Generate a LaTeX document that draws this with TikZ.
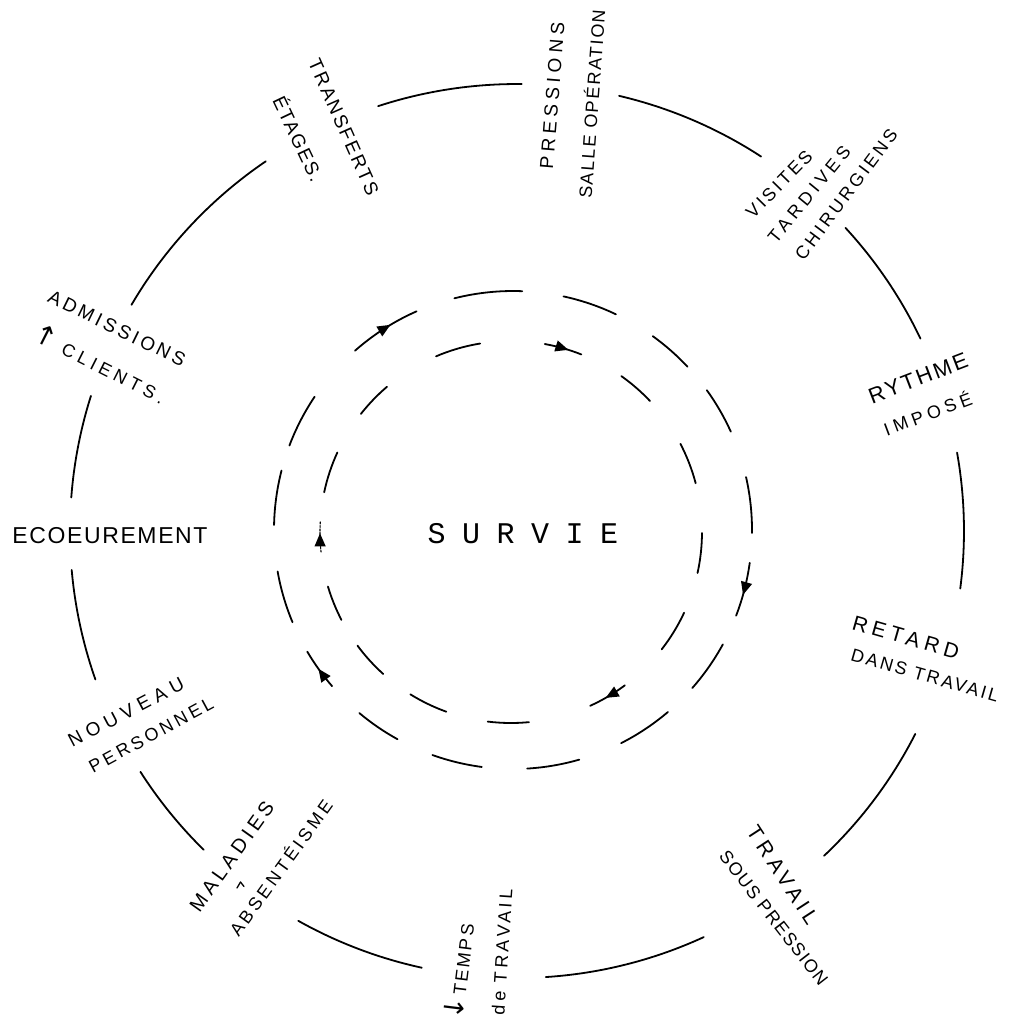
\documentclass[tikz,border=0pt]{standalone}
\usepackage{fontspec}
\newfontfamily\hand{Liberation Sans}
\newfontfamily\typew{Liberation Mono}
\newfontfamily\arrowfont{DejaVu Sans}
\usetikzlibrary{arrows.meta,decorations.markings,calc}

% one arc piece of a ring: [style]{centre}{radius}{from angle}{to angle}
\newcommand{\seg}[5][]{\draw[ring,#1] ($(#2)+(#4:#3)$) arc[start angle=#4, end angle=#5, radius=#3];}
% hand-lettered label: {name}{x}{y}{angle}{size}{letter spacing}{text}
\newcommand{\hl}[7]{\node[lab, rotate=#4, text height=#5*0.72pt,
  font={\hand\fontsize{#5}{#5}\selectfont\addfontfeature{LetterSpace=#6}}] (#1) at (#2,#3) {#7};}
% up / down pen arrows inside a label
\newcommand{\up}{{\arrowfont\fontsize{27}{27}\selectfont\addfontfeature{LetterSpace=0}↑}}
\newcommand{\down}{{\arrowfont\fontsize{27}{27}\selectfont\addfontfeature{LetterSpace=0}↓}}

\begin{document}
\begin{tikzpicture}[x=1pt,y=-1pt,
  ring/.style={line width=1.8pt, line cap=round},
  faint/.style={line width=1.1pt, dash pattern=on 2pt off 1.5pt},
  flow/.style={postaction={decorate}, decoration={markings,
    mark=at position #1 with {\arrow{Triangle[length=13pt,width=11pt]}}}},
  flow/.default=0.6,
  lab/.style={inner sep=0pt, text depth=0pt}]
\useasboundingbox (0,0) rectangle (1009,1029);

\coordinate (Co) at (517,531);  % outer solid circle
\coordinate (Cm) at (513,530);  % outer dashed ring
\coordinate (Ci) at (511,532);  % inner dashed ring

% outer circle, broken where the labels sit
\seg{Co}{447}{-108.1}{-89.4}
\seg{Co}{447}{-76.8}{-56.9}
\seg{Co}{447}{-42.7}{-25.5}
\seg{Co}{447}{-10.1}{7.4}
\seg{Co}{447}{27}{46.6}
\seg{Co}{447}{65.3}{86.3}
\seg{Co}{447}{102.3}{119.3}
\seg{Co}{447}{134.5}{147.4}
\seg{Co}{447}{160.6}{175}
\seg{Co}{447}{184.3}{197.6}
\seg{Co}{447}{210.4}{235.8}

% outer dashed ring, running clockwise
\seg[flow]{Cm}{239}{-131.4}{-113.8}
\seg{Cm}{239}{-104.2}{-87.8}
\seg{Cm}{239}{-77.8}{-64.5}
\seg{Cm}{239}{-54.2}{-43.1}
\seg{Cm}{239}{-35.8}{-24.3}
\seg{Cm}{239}{-12.8}{0.7}
\seg[flow]{Cm}{239}{7.9}{21}
\seg{Cm}{239}{28.6}{41.4}
\seg{Cm}{239}{49.6}{63.1}
\seg{Cm}{239}{73.9}{86.6}
\seg{Cm}{239}{97.5}{109.7}
\seg{Cm}{239}{118.9}{130}
\seg[flow=0.52]{Cm}{239}{139.2}{149.4}
\seg{Cm}{239}{157.3}{170}
\seg{Cm}{239}{181.2}{194.4}
\seg{Cm}{239}{200.7}{213.9}

% inner dashed ring, running clockwise
\seg{Ci}{191}{-113.1}{-99.3}
\seg[flow=0.64]{Ci}{191}{-79.8}{-68.4}
\seg{Ci}{191}{-54.7}{-43.3}
\seg{Ci}{191}{-27.5}{-14.8}
\seg{Ci}{191}{0.3}{12.4}
\seg{Ci}{191}{25}{37.9}
\seg[flow=0.57]{Ci}{191}{53.4}{65.5}
\seg{Ci}{191}{84.6}{97}
\seg{Ci}{191}{109.8}{121.8}
\seg{Ci}{191}{132}{143.5}
\seg{Ci}{191}{152.6}{163.4}
\seg[faint,flow=0.62]{Ci}{191}{174}{183}
\seg{Ci}{191}{192}{204.6}
\seg{Ci}{191}{218.2}{229.5}

% centre word
\node[lab, text height=17pt,
  font={\typew\fontsize{30}{30}\selectfont\addfontfeature{LetterSpace=-5}}]
  (survie) at (523,535) {S U R V I E};

% labels around the circle
\hl{transferts}{344}{127}{-66}{19}{12}{TRANSFERTS}
\hl{etages}{298}{139}{-64.6}{19}{10}{ÉTAGES.}
\hl{pressions}{552}{96}{85.4}{19}{24}{PRESSIONS}
\hl{salle}{592}{104}{85.8}{18}{10}{SALLE OPÉRATION}
\hl{visites}{779}{184}{45.6}{18}{16}{VISITES}
\hl{tardives}{809}{194}{50.7}{18}{24}{TARDIVES}
\hl{chirurgiens}{846}{194}{53.3}{18}{18}{CHIRURGIENS}
\hl{rythme}{918}{378}{21}{22}{11}{RYTHME}
\hl{impose}{928}{414}{20.5}{18}{25}{IMPOSÉ}
\hl{retard}{906}{637}{-16}{21}{24}{RETARD}
\hl{dans}{925}{675}{-16}{18}{14}{DANS TRAVAIL}
\hl{travail}{783}{875}{-57}{21}{23}{TRAVAIL}
\hl{souspression}{774}{918}{-52.2}{18}{8}{SOUS PRESSION}
\hl{temps}{462}{972}{83}{18}{12}{\down\,TEMPS}
\hl{detravail}{502}{952}{86.2}{18}{20}{de TRAVAIL}
\hl{maladies}{231.5}{856.5}{54.6}{20}{21}{MALADIES}
\hl{absenteisme}{281}{868}{54.2}{18}{19}{ABSENTÉISME}
\hl{nouveau}{126}{712}{27.7}{19}{30}{NOUVEAU}
\hl{personnel}{151}{735}{28.4}{18}{19}{PERSONNEL}
\hl{ecoeurement}{110}{535}{0}{23}{7}{ECOEUREMENT}
\hl{admissions}{117}{328}{-26}{19}{18}{ADMISSIONS}
\hl{clients}{99}{366}{-26.8}{18}{25}{\up\ CLIENTS.}

% small pen mark between the two lines
\draw[line width=1.3pt, line cap=round, line join=round] (237,888) -- (240.5,882) -- (244,886.5);
\end{tikzpicture}
\end{document}
